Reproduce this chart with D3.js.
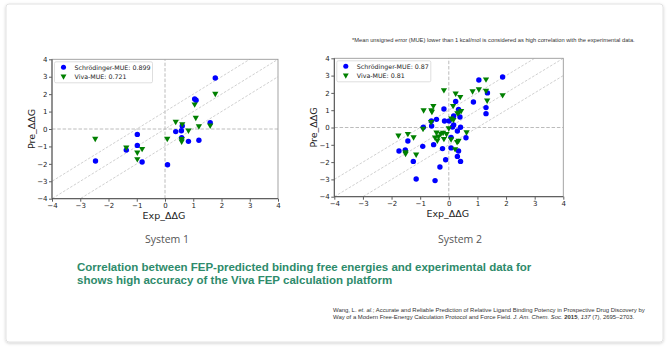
<!DOCTYPE html>
<html>
<head>
<meta charset="utf-8">
<script src="https://cdnjs.cloudflare.com/ajax/libs/d3/7.8.5/d3.min.js"></script>
<style>
  body { margin: 0; background: #fff; }
  svg { display: block; }
</style>
</head>
<body>
<div class="container"></div>
<script>
// ---- data ----
const ticks = [-4, -3, -2, -1, 0, 1, 2, 3, 4];
const offsets = [-1, 0, 1];   // y = x + offset guide lines

const sys1SchExp = [1.78, 1.05, 1.10, 1.60, 0.61, 0.38, 0.58, 0.59, 0.83, 1.20, -0.98, -0.98, -1.37, -2.46, -0.81, 0.09];
const sys1SchPre = [2.93, 1.72, 1.65, 0.36, 0.17, -0.15, -0.10, -0.50, -0.71, -0.65, -0.31, -0.94, -1.21, -1.84, -1.89, -2.05];
const sys1VivaExp = [1.78, 1.05, 1.09, 0.38, 0.61, 1.60, 1.20, 0.83, 0.08, 0.59, 0.59, -2.47, -1.37, -0.81, -0.98, -0.98];
const sys1VivaPre = [2.03, 1.42, 0.65, 0.42, 0.29, 0.21, 0.17, -0.08, -0.55, -0.57, -0.71, -0.55, -1.05, -1.13, -1.34, -1.72];

const sys2SchExp = [1.88, 1.05, 1.35, 0.86, 0.24, 1.30, 1.30, -0.17, 0.34, 0.39, 0.17, -0.43, -0.15, 0.01, 0.17, 0.13, 0.41, 0.30, 0.60,
  -1.43, -0.91, -0.53, -0.22, 0.08, -1.74, -1.52, 0.34, -0.11, 0.30, -1.24, 0.41, -0.31, -1.14, -0.48, -0.61, -0.60, -0.89, 0.08];
const sys2SchPre = [2.92, 2.75, 2.00, 1.47, 1.51, 1.15, 0.80, 1.07, 1.05, 0.61, 0.67, 0.47, 0.38, 0.38, 0.14, 0.03, 0.01, -0.20, -0.59,
  -0.78, -1.09, -0.99, -1.22, -1.18, -1.36, -1.30, -1.36, -1.86, -1.67, -1.96, -1.96, -2.28, -2.98, -3.07, 0.38, 0.09, 0.01, -0.57];
const sys2VivaExp = [1.30, 1.05, 0.83, 1.30, 1.88, 1.34, -0.17, 0.24, 0.40, -0.54, -0.88, -0.61, -0.59, 0.15, 0.09, 0.16, 0.35, 0.43, 0.30,
  -0.62, -0.90, 0.00, -1.76, -1.43, -1.23, -1.51, -1.51, -1.14, -0.43, -0.28, -0.20, -0.08, -0.36, -0.48, -0.17, -0.40, 0.08, 0.29, 0.34, 0.62, 0.22];
const sys2VivaPre = [2.79, 2.22, 2.10, 2.13, 1.88, 1.57, 2.17, 1.97, 1.78, 1.26, 1.01, 1.01, 0.92, 1.26, 0.53, 0.45, 0.88, 0.96, 0.84,
  0.33, -0.06, -0.03, -0.45, -0.36, -0.55, -1.42, -1.51, -1.55, -0.28, -0.35, -0.29, -0.37, -0.51, -0.57, -0.65, -0.74, -0.67, -0.83, -0.76, -0.27, -1.24];

const panels = [
  { title: 'System 1', sch: 'Schrödinger-MUE: 0.899', viva: 'Viva-MUE: 0.721',
    schX: sys1SchExp, schY: sys1SchPre, vivaX: sys1VivaExp, vivaY: sys1VivaPre,
    left: 52, right: 278, top: 59.3, bottom: 198.7, legendW: 98, titleX: 167 },
  { title: 'System 2', sch: 'Schrödinger-MUE: 0.87', viva: 'Viva-MUE: 0.81',
    schX: sys2SchExp, schY: sys2SchPre, vivaX: sys2VivaExp, vivaY: sys2VivaPre,
    left: 334.3, right: 563.3, top: 58.3, bottom: 196.7, legendW: 94, titleX: 460 }
];

const WIDTH = 669;
const HEIGHT = 350;
const BLUE = '#0000ff';
const GREEN = '#008000';
const MPL = 'DejaVu Sans, sans-serif';
const ARIAL = 'Liberation Sans, Arial, sans-serif';

let translate = (x, y) => `translate(${x},${y})`;

// scale a text's font so that one of its lines gets a given width
let fitFont = function (text, line, width) {
  let size = +text.attr('font-size');
  let len = line.node().getComputedTextLength();
  if (len > 0) text.attr('font-size', (size * width / len).toFixed(2));
};

let svg = d3.select('.container').append('svg')
  .attr('width', WIDTH)
  .attr('height', HEIGHT);

// card frame with soft shadow
let defs = svg.append('defs');
let f = defs.append('filter').attr('id', 'shadow').attr('x', '-5%').attr('y', '-5%').attr('width', '110%').attr('height', '110%');
f.append('feDropShadow').attr('dx', 0).attr('dy', 1).attr('stdDeviation', 1.5).attr('flood-color', '#000').attr('flood-opacity', 0.18);

svg.append('rect')
  .attr('x', 6).attr('y', 4).attr('width', 657).attr('height', 338)
  .attr('rx', 3)
  .attr('fill', '#fff').attr('stroke', '#e2e2e2')
  .attr('filter', 'url(#shadow)');

let drawPanel = function (p) {
  let x = d3.scaleLinear().domain([-4, 4]).range([p.left, p.right]);
  let y = d3.scaleLinear().domain([-4, 4]).range([p.bottom, p.top]);

  let g = svg.append('g');
  let clipId = 'clip' + p.title.replace(' ', '');
  defs.append('clipPath').attr('id', clipId)
    .append('rect')
    .attr('x', p.left).attr('y', p.top)
    .attr('width', p.right - p.left).attr('height', p.bottom - p.top);

  let inner = g.append('g').attr('clip-path', `url(#${clipId})`);

  // zero lines
  inner.append('line')
    .attr('x1', x(-4)).attr('x2', x(4)).attr('y1', y(0)).attr('y2', y(0))
    .attr('stroke', '#b4b4b4').attr('stroke-width', 0.9).attr('stroke-dasharray', '3.5,1.8');
  inner.append('line')
    .attr('x1', x(0)).attr('x2', x(0)).attr('y1', y(-4)).attr('y2', y(4))
    .attr('stroke', '#b4b4b4').attr('stroke-width', 0.9).attr('stroke-dasharray', '3.5,1.8');

  // diagonal guide lines
  inner.selectAll('line.diag')
    .data(offsets)
    .enter().append('line')
    .attr('class', 'diag')
    .attr('x1', x(-5)).attr('y1', d => y(-5 + d))
    .attr('x2', x(5)).attr('y2', d => y(5 + d))
    .attr('stroke', '#c4c4c4').attr('stroke-width', 0.8).attr('stroke-dasharray', '2.6,1.6');

  // schrodinger points
  inner.append('g').selectAll('path')
    .data(d3.range(p.schX.length))
    .enter().append('path')
    .attr('d', d3.symbol(d3.symbolCircle, 23))
    .attr('transform', i => translate(x(p.schX[i]), y(p.schY[i])))
    .attr('fill', BLUE);

  // viva points
  inner.append('g').selectAll('path')
    .data(d3.range(p.vivaX.length))
    .enter().append('path')
    .attr('d', d3.symbol(d3.symbolTriangle, 17))
    .attr('transform', i => translate(x(p.vivaX[i]), y(p.vivaY[i])) + ' rotate(180)')
    .attr('fill', GREEN);

  // axes
  let xAxis = d3.axisBottom(x).tickValues(ticks).tickSize(3).tickPadding(1.5)
    .tickFormat(d => d < 0 ? '\u2212' + Math.abs(d) : d);
  let yAxis = d3.axisLeft(y).tickValues(ticks).tickSize(3).tickPadding(1.5)
    .tickFormat(d => d < 0 ? '\u2212' + Math.abs(d) : d);

  let gx = g.append('g').attr('transform', translate(0, p.bottom)).call(xAxis);
  let gy = g.append('g').attr('transform', translate(p.left, 0)).call(yAxis);
  [gx, gy].forEach(a => {
    a.select('.domain').remove();
    a.selectAll('line').attr('stroke', '#333').attr('stroke-width', 0.8);
    a.selectAll('text').attr('font-family', MPL).attr('font-size', 7).attr('fill', '#222');
  });

  // spines
  g.append('rect')
    .attr('x', p.left).attr('y', p.top)
    .attr('width', p.right - p.left).attr('height', p.bottom - p.top)
    .attr('fill', 'none').attr('stroke', '#9a9a9a').attr('stroke-width', 0.9);
  g.append('path')
    .attr('d', `M${p.left},${p.top}V${p.bottom}H${p.right}`)
    .attr('fill', 'none').attr('stroke', '#444').attr('stroke-width', 0.9);

  // axis labels
  g.append('text')
    .attr('x', (p.left + p.right) / 2 - 1).attr('y', p.bottom + 20.5)
    .attr('text-anchor', 'middle')
    .attr('font-family', MPL).attr('font-size', 9.5).attr('fill', '#222')
    .text('Exp_\u0394\u0394G');
  g.append('text')
    .attr('transform', translate(p.left - 17, (p.top + p.bottom) / 2) + ' rotate(-90)')
    .attr('text-anchor', 'middle')
    .attr('font-family', MPL).attr('font-size', 9.5).attr('fill', '#222')
    .text('Pre_\u0394\u0394G');

  // legend
  let lg = g.append('g').attr('transform', translate(p.left + 2.5, p.top + 2.5));
  lg.append('rect')
    .attr('width', p.legendW).attr('height', 21)
    .attr('rx', 1.5)
    .attr('fill', '#fff').attr('fill-opacity', 0.85)
    .attr('stroke', '#d6d6d6').attr('stroke-width', 0.8);
  let rows = [
    { label: p.sch, sym: d3.symbolCircle, color: BLUE, rot: 0, size: 20 },
    { label: p.viva, sym: d3.symbolTriangle, color: GREEN, rot: 180, size: 15 }
  ];
  let row = lg.selectAll('g.row')
    .data(rows)
    .enter().append('g')
    .attr('class', 'row')
    .attr('transform', (d, i) => translate(0, 5.5 + i * 9));
  row.append('path')
    .attr('d', d => d3.symbol(d.sym, d.size)())
    .attr('transform', d => translate(9, 0) + ` rotate(${d.rot})`)
    .attr('fill', d => d.color);
  row.append('text')
    .attr('x', 20).attr('y', 2.2)
    .attr('font-family', MPL).attr('font-size', 6.3).attr('fill', '#222')
    .text(d => d.label);

  // subtitle
  svg.append('text')
    .attr('x', p.titleX).attr('y', 243)
    .attr('text-anchor', 'middle')
    .attr('font-family', 'Open Sans, sans-serif').attr('font-size', 10.5).attr('fill', '#555')
    .text(p.title);
};

panels.forEach(p => drawPanel(p));

// footnote
let note = svg.append('text')
  .attr('x', 352).attr('y', 42)
  .attr('font-family', ARIAL).attr('font-size', 5).attr('fill', '#333')
  .text('*Mean unsigned error (MUE) lower than 1 kcal/mol is considered as high correlation with the experimental data.');
fitFont(note, note, 283);

// caption
let cap = svg.append('text')
  .attr('font-family', ARIAL).attr('font-weight', 'bold')
  .attr('font-size', 11.2).attr('fill', '#2e8b6b');
cap.append('tspan').attr('x', 77).attr('y', 270.5)
  .text('Correlation between FEP-predicted binding free energies and experimental data for');
let cap2 = cap.append('tspan').attr('x', 77).attr('y', 284)
  .text('shows high accuracy of the Viva FEP calculation platform');
fitFont(cap, cap2, 315);

// reference
let ref = svg.append('text')
  .attr('font-family', ARIAL).attr('font-size', 5.2).attr('fill', '#333');
let l1 = ref.append('tspan').attr('x', 333).attr('y', 311.5);
l1.append('tspan').text('Wang, L. ');
l1.append('tspan').attr('font-style', 'italic').text('et. al.');
l1.append('tspan').text('; Accurate and Reliable Prediction of Relative Ligand Binding Potency in Prospective Drug Discovery by');
let l2 = ref.append('tspan').attr('x', 333).attr('y', 318.5);
l2.append('tspan').text('Way of a Modern Free-Energy Calculation Protocol and Force Field. ');
l2.append('tspan').attr('font-style', 'italic').text('J. Am. Chem. Soc.');
l2.append('tspan').text(' ');
l2.append('tspan').attr('font-weight', 'bold').text('2015');
l2.append('tspan').text(', ');
l2.append('tspan').attr('font-style', 'italic').text('137');
l2.append('tspan').text(' (7), 2695\u20132703.');
fitFont(ref, l1, 311);
</script>
</body>
</html>
